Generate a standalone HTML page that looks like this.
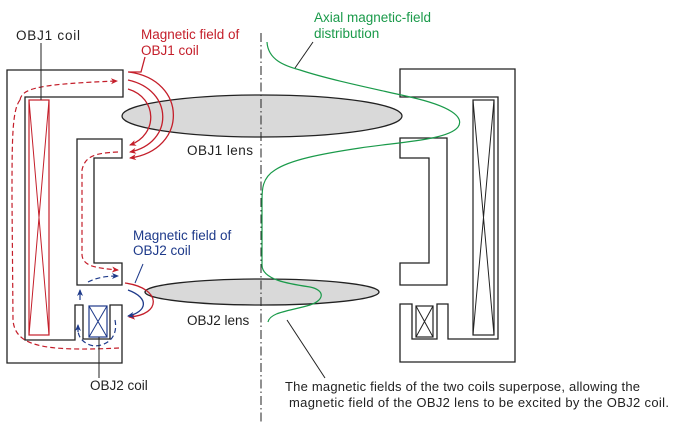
<!DOCTYPE html>
<html><head><meta charset="utf-8"><style>
html,body{margin:0;padding:0;background:#fff;}
svg{display:block;font-family:"Liberation Sans",sans-serif;}
</style></head><body>
<svg width="678" height="422" viewBox="0 0 678 422" xmlns="http://www.w3.org/2000/svg">
<defs>
<marker id="ar" markerWidth="7" markerHeight="7" refX="6" refY="3.5" orient="auto" markerUnits="userSpaceOnUse"><path d="M0,0.5 L7,3.5 L0,6.5 L2,3.5Z" fill="#c41e2a"/></marker>
<marker id="ab" markerWidth="7" markerHeight="7" refX="6" refY="3.5" orient="auto" markerUnits="userSpaceOnUse"><path d="M0,0.5 L7,3.5 L0,6.5 L2,3.5Z" fill="#1e3a8a"/></marker>
</defs>
<ellipse cx="262" cy="116" rx="140" ry="21" fill="#d9d9d9" stroke="#222" stroke-width="1.3"/>
<ellipse cx="262" cy="292" rx="117" ry="13" fill="#d9d9d9" stroke="#222" stroke-width="1.3"/>
<line x1="261" y1="33" x2="261" y2="422" stroke="#222" stroke-width="1" stroke-dasharray="9,3,1.5,3"/>
<path d="M7,70 L123,70 L123,97 L25,97 L25,340 L75,340 L75,305 L83,305 L83,339 L110,339 L110,305 L122,305 L122,363 L7,363 Z" fill="#fff" stroke="#222" stroke-width="1.3"/>
<path d="M77,139 L122,139 L122,158 L94,158 L94,263 L122,263 L122,285 L77,285 Z" fill="#fff" stroke="#222" stroke-width="1.3"/>
<rect x="29" y="100" width="20" height="235" fill="none" stroke="#c41e2a" stroke-width="1.2"/>
<path d="M29,100 L49,335 M49,100 L29,335" stroke="#c41e2a" stroke-width="1"/>
<rect x="89" y="306" width="18" height="31" fill="none" stroke="#1e3a8a" stroke-width="1.2"/>
<path d="M89,306 L107,337 M107,306 L89,337" stroke="#1e3a8a" stroke-width="1"/>
<path d="M400,69 L515,69 L515,362 L400,362 L400,304 L412,304 L412,339 L437,339 L437,304 L448,304 L448,339 L498,339 L498,97 L400,97 Z" fill="#fff" stroke="#222" stroke-width="1.3"/>
<path d="M400,138 L447,138 L447,285 L400,285 L400,263 L429,263 L429,158 L400,158 Z" fill="#fff" stroke="#222" stroke-width="1.3"/>
<rect x="473" y="100" width="21" height="235" fill="none" stroke="#222" stroke-width="1.2"/>
<path d="M473,100 L494,335 M494,100 L473,335" stroke="#222" stroke-width="1"/>
<rect x="416" y="306" width="17" height="31" fill="none" stroke="#222" stroke-width="1.2"/>
<path d="M416,306 L433,337 M433,306 L416,337" stroke="#222" stroke-width="1"/>
<g fill="none" stroke="#c41e2a" stroke-width="1.2" stroke-dasharray="5,3">
<path d="M20,100 C22,88 40,84 117,81" marker-end="url(#ar)"/>
<path d="M20,100 C12,110 12,140 12,200 L13,320 C15,345 40,352 119,348"/>
<path d="M118,152 C95,153 85,156 82,170 L82,255 C83,266 95,268 118,270" marker-end="url(#ar)"/>
</g>
<g fill="none" stroke="#1e3a8a" stroke-width="1.2" stroke-dasharray="5,3">
<path d="M88,282 C98,277 108,276 118,276" marker-end="url(#ab)"/>
<path d="M80,300 L80,290" marker-end="url(#ab)" stroke-dasharray="none"/>
<path d="M115,320 C118,335 110,345 95,346 C85,345 78,338 78,330" />
<path d="M78,332 L78,325" marker-end="url(#ab)" stroke-dasharray="none"/>
</g>
<g fill="none" stroke="#c41e2a" stroke-width="1.3">
<path d="M129,72 C188,80 188,150 130,158" marker-end="url(#ar)"/>
<path d="M128,80 C174,90 174,143 130,152" marker-end="url(#ar)"/>
<path d="M128,89 C158,98 158,135 130,145" marker-end="url(#ar)"/>
<path d="M145,57 L141,72 L128,72"/>
<path d="M125,283 C162,288 162,315 129,317" marker-end="url(#ar)"/>
</g>
<path d="M128,290 C150,298 147,312 128,316" fill="none" stroke="#1e3a8a" stroke-width="1.3" marker-end="url(#ab)"/>
<line x1="143" y1="264" x2="135" y2="283" stroke="#1e3a8a" stroke-width="1"/>
<path d="M267,42 C268,60 285,66 300,70 C330,80 380,90 410,97 C450,106 465,117 458,127 C448,140 400,142 360,148 C320,154 290,160 275,170 C262,178 262,190 262,200 L262,265 C262,280 290,284 310,287 C325,290 325,300 310,305 C290,311 270,312 268,322" fill="none" stroke="#1a9a4a" stroke-width="1.2"/>
<line x1="313" y1="42" x2="295" y2="68" stroke="#222" stroke-width="1"/>
<line x1="287" y1="320" x2="325" y2="378" stroke="#222" stroke-width="1"/>
<line x1="41" y1="43" x2="41" y2="100" stroke="#222" stroke-width="1"/>
<line x1="99" y1="337" x2="99" y2="378" stroke="#222" stroke-width="1"/>
<g font-size="13.5">
<text x="16" y="40" fill="#222" textLength="64">OBJ1  coil</text>
<text x="141" y="39" fill="#c41e2a">Magnetic field of</text>
<text x="141" y="55" fill="#c41e2a">OBJ1 coil</text>
<text x="187" y="155" fill="#222" textLength="66">OBJ1  lens</text>
<text x="133" y="240" fill="#1e3a8a">Magnetic field of</text>
<text x="133" y="255" fill="#1e3a8a">OBJ2 coil</text>
<text x="187" y="325" fill="#222">OBJ2 lens</text>
<text x="90" y="390" fill="#222">OBJ2 coil</text>
<text x="314" y="22" fill="#1a9a4a">Axial magnetic-field</text>
<text x="314" y="38" fill="#1a9a4a">distribution</text>
<text x="285" y="391" fill="#222" font-size="13" textLength="355">The magnetic fields of the two coils superpose, allowing the</text>
<text x="289" y="407" fill="#222" font-size="13" textLength="380">magnetic field of the OBJ2 lens to be excited by the OBJ2 coil.</text>
</g>
</svg>
</body></html>
